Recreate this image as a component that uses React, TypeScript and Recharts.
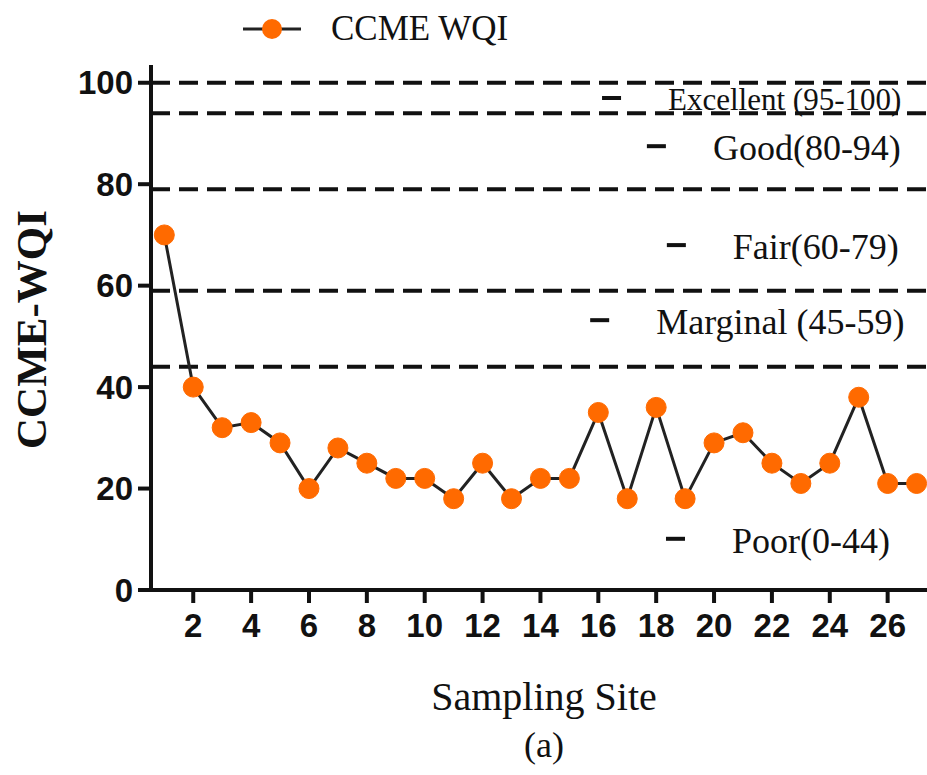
import {
  CartesianGrid,
  Legend,
  Line,
  LineChart,
  ReferenceDot,
  ReferenceLine,
  XAxis,
  YAxis,
} from "recharts";

// CCME water quality index per sampling site
const sites = [1, 2, 3, 4, 5, 6, 7, 8, 9, 10, 11, 12, 13, 14, 15, 16, 17, 18, 19, 20, 21, 22, 23, 24, 25, 26, 27];
const wqi = [70, 40, 32, 33, 29, 20, 28, 25, 22, 22, 18, 25, 18, 22, 22, 35, 18, 36, 18, 29, 31, 25, 21, 25, 38, 21, 21];

const xTicks = [2, 4, 6, 8, 10, 12, 14, 16, 18, 20, 22, 24, 26];
const yTicks = [0, 20, 40, 60, 80, 100];

// class boundaries drawn as dashed lines
const classBounds = [100, 94, 79, 59, 44];

// class names, where each name starts along x and the level it sits at
const classNames = ["Excellent (95-100)", "Good(80-94)", "Fair(60-79)", "Marginal (45-59)", "Poor(0-44)"];
const classStart = [18.41, 19.96, 20.65, 18.0, 20.62];
const classLevels = [96.6, 87.1, 67.6, 52.8, 9.7];

const data = sites.map((site, i) => ({ site, wqi: wqi[i] }));

const SERIF = "'Liberation Serif', 'Times New Roman', serif";
const SANS = "'Liberation Sans', Arial, sans-serif";
const ORANGE = "#ff6a00";

// short legend-style dash followed by the class name
function ClassName(props: any) {
  const { cx, cy, name } = props;
  const small = name.startsWith("Excellent");
  return (
    <g>
      <rect x={cx - 66} y={cy - 4} width={19} height={4} fill="#111" />
      <text
        x={cx}
        y={cy}
        dy="0.33em"
        textAnchor="start"
        fontFamily={SERIF}
        fontSize={small ? 31 : 36}
        fill="#111"
      >
        {name}
      </text>
    </g>
  );
}

function renderLegend() {
  return (
    <div style={{ display: "flex", alignItems: "center", fontFamily: SERIF, fontSize: 35, color: "#111" }}>
      <svg width={58} height={24} style={{ marginRight: 30 }}>
        <line x1={0} y1={12} x2={58} y2={12} stroke="#222" strokeWidth={3} />
        <circle cx={29} cy={12} r={10} fill={ORANGE} />
      </svg>
      <span>CCME WQI</span>
    </div>
  );
}

function XTitle(props: any) {
  const { viewBox } = props;
  const cx = viewBox.x + viewBox.width / 2 + 5;
  return (
    <g>
      <text x={cx} y={viewBox.y + 120} fontFamily={SERIF} fontSize={40} fill="#111" textAnchor="middle">
        Sampling Site
      </text>
      <text x={cx} y={viewBox.y + 167} fontFamily={SERIF} fontSize={36} fill="#111" textAnchor="middle">
        (a)
      </text>
    </g>
  );
}

function YTitle(props: any) {
  const { viewBox } = props;
  const x = viewBox.x + 31;
  const y = viewBox.y + viewBox.height / 2 + 2;
  return (
    <text
      x={x}
      y={y}
      transform={`rotate(-90 ${x} ${y})`}
      textAnchor="middle"
      dominantBaseline="central"
      fontFamily={SERIF}
      fontWeight="bold"
      fontSize={43}
      fill="#111"
    >
      CCME-WQI
    </text>
  );
}

export default function App() {
  const tickStyle = { fontFamily: SANS, fontWeight: "bold", fontSize: 33, fill: "#111" };
  return (
    <div style={{ position: "absolute", left: 0, top: 0, background: "#fff" }}>
      <LineChart width={927} height={775} data={data} margin={{ top: 65, right: 0, bottom: 0, left: 0 }}>
        <CartesianGrid stroke="none" />
        <XAxis
          type="number"
          dataKey="site"
          domain={[0.54, 27.36]}
          ticks={xTicks}
          height={185}
          tickSize={13}
          tickMargin={11}
          tick={tickStyle}
          axisLine={{ stroke: "#111", strokeWidth: 4 }}
          tickLine={{ stroke: "#111", strokeWidth: 4 }}
          label={<XTitle />}
        />
        <YAxis
          type="number"
          domain={[0, 103.5]}
          ticks={yTicks}
          width={151}
          tickSize={13}
          tickMargin={5}
          tick={tickStyle}
          axisLine={{ stroke: "#111", strokeWidth: 4 }}
          tickLine={{ stroke: "#111", strokeWidth: 4 }}
          label={<YTitle />}
        />
        {classBounds.map((v) => (
          <ReferenceLine key={v} y={v} stroke="#111" strokeWidth={4} strokeDasharray="19 9" />
        ))}
        {classNames.map((name, i) => (
          <ReferenceDot
            key={name}
            x={classStart[i]}
            y={classLevels[i]}
            shape={(p: any) => <ClassName {...p} name={name} />}
          />
        ))}
        <Legend
          layout="horizontal"
          verticalAlign="middle"
          align="center"
          content={renderLegend}
          wrapperStyle={{ top: 9, left: 243, width: 320 }}
        />
        <Line
          dataKey="wqi"
          name="CCME WQI"
          stroke="#222"
          strokeWidth={3}
          dot={{ r: 10, fill: ORANGE, stroke: ORANGE, strokeWidth: 1 }}
          isAnimationActive={false}
        />
      </LineChart>
    </div>
  );
}
